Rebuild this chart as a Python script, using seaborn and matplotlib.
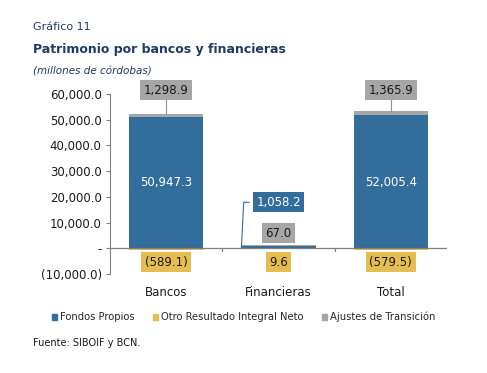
import numpy as np
import pandas as pd
import matplotlib
matplotlib.use("Agg")
import matplotlib.pyplot as plt
import seaborn as sns
from matplotlib.patches import Patch

# datos (millones de córdobas)
categorias = ["Bancos", "Financieras", "Total"]
fondos_propios = [50947.3, 1058.2, 52005.4]
otro_resultado = [-589.1, 9.6, -579.5]
ajustes_transicion = [1298.9, 67.0, 1365.9]
etiquetas_y = ["(10,000.0)", "-", "10,000.0", "20,000.0", "30,000.0",
               "40,000.0", "50,000.0", "60,000.0"]

azul = "#336D9B"
amarillo = "#E6BD50"
gris = "#A6A6A6"
navy = "#1F3A68"

sns.set_style("white")
plt.rcParams["font.family"] = ["DejaVu Sans"]

df = pd.DataFrame({"Categoria": categorias,
                   "Fondos": fondos_propios,
                   "Otro": otro_resultado,
                   "Ajustes": ajustes_transicion})
df["Tope"] = df["Fondos"] + df["Ajustes"]

fig = plt.figure(figsize=(4.87, 3.73), dpi=100)
ax = fig.add_axes([110 / 487, 1 - 274 / 373, 337 / 487, 180 / 373])

sns.barplot(data=df, x="Categoria", y="Tope", color=gris, width=0.66,
            saturation=1, linewidth=0, ax=ax)
sns.barplot(data=df, x="Categoria", y="Fondos", color=azul, width=0.66,
            saturation=1, linewidth=0, ax=ax)
sns.barplot(data=df, x="Categoria", y="Otro", color=amarillo, width=0.66,
            saturation=1, linewidth=0, ax=ax)

ax.set_ylim(-10000, 60000)
ax.set_xlim(-0.5, 2.5)
ax.set_yticks(np.arange(-10000, 60001, 10000))
ax.set_yticklabels(etiquetas_y, fontsize=8.5, color="#1a1a1a")
ax.set_xticks(range(3))
ax.set_xticklabels(categorias, fontsize=8.5, color="#1a1a1a")
ax.set_xlabel("")
ax.set_ylabel("")
for s in ["top", "right", "bottom"]:
    ax.spines[s].set_visible(False)
ax.spines["left"].set_color("#808080")
ax.axhline(0, color="#808080", lw=0.9, zorder=5)
ax.tick_params(axis="y", length=3, color="#808080", direction="out", left=True, pad=3)
ax.tick_params(axis="x", length=0, pad=9)
for xb in [0.5, 1.5]:
    ax.plot([xb, xb], [0, -1200], color="#808080", lw=0.9, clip_on=False)

caja = dict(boxstyle="square,pad=0.3", lw=0)

def fmt(v):
    s = f"{abs(v):,.1f}"
    return f"({s})" if v < 0 else s

# etiquetas de ajustes
for i, y_lbl in [(0, 61500), (2, 61500)]:
    ax.text(i, y_lbl, fmt(ajustes_transicion[i]), ha="center", va="center",
            fontsize=8.5, color="#1a1a1a", clip_on=False,
            bbox=dict(caja, fc=gris))
    ax.plot([i, i], [df["Tope"][i], y_lbl - 1500], color="#909090", lw=0.8)
ax.text(1, 5800, fmt(ajustes_transicion[1]), ha="center", va="center",
        fontsize=8.5, color="#1a1a1a", bbox=dict(caja, fc=gris))

# etiquetas fondos propios
for i in [0, 2]:
    ax.text(i, 25500, fmt(fondos_propios[i]), ha="center", va="center",
            fontsize=8.5, color="white")
ax.text(1, 17900, fmt(fondos_propios[1]), ha="center", va="center",
        fontsize=8.5, color="white", bbox=dict(caja, fc=azul))
ax.plot([0.67, 0.69, 0.74], [300, 17900, 17900], color=azul, lw=0.8)

# etiquetas otro resultado
for i in range(3):
    ax.text(i, -5500, fmt(otro_resultado[i]), ha="center", va="center",
            fontsize=8.5, color="#1a1a1a", bbox=dict(caja, fc=amarillo))

# leyenda
handles = [Patch(color=azul, label="Fondos Propios"),
           Patch(color=amarillo, label="Otro Resultado Integral Neto"),
           Patch(color=gris, label="Ajustes de Transición")]
fig.legend(handles=handles, loc="center", bbox_to_anchor=(0.5, 1 - 317 / 373),
           ncol=3, frameon=False, fontsize=7.2, handlelength=0.55,
           handleheight=0.55, handletextpad=0.3, columnspacing=1.8)

fig.text(33 / 487, 1 - 27 / 373, "Gráfico 11", fontsize=8, color=navy, va="center")
fig.text(33 / 487, 1 - 49 / 373, "Patrimonio por bancos y financieras",
         fontsize=9, fontweight="bold", color=navy, va="center")
fig.text(33 / 487, 1 - 71 / 373, "(millones de córdobas)", fontsize=7.5,
         style="italic", color=navy, va="center")
fig.text(33 / 487, 1 - 343 / 373, "Fuente: SIBOIF y BCN.", fontsize=7,
         color="#1a1a1a", va="center")

fig.savefig("out.png", dpi=100)
